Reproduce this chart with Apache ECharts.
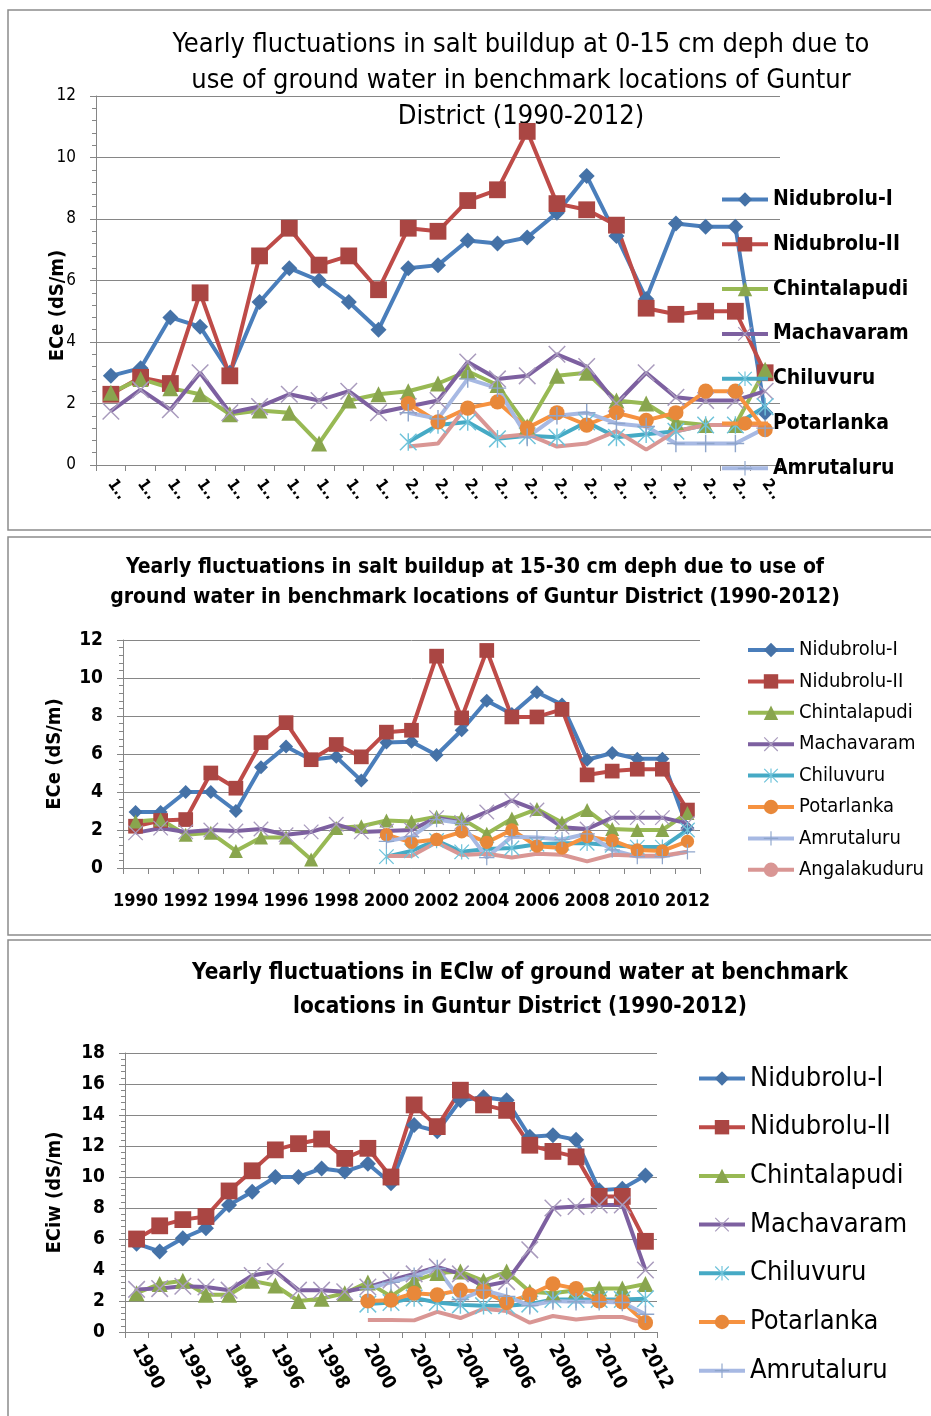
<!DOCTYPE html>
<html>
<head>
<meta charset="utf-8">
<script src="https://cdn.jsdelivr.net/npm/echarts@6/dist/echarts.min.js"></script>
<style>
  html, body { margin: 0; padding: 0; background: #fff; }
  #chart { width: 931px; height: 1416px; }
</style>
</head>
<body>
<div id="chart"></div>
<script>
// years on the category axis
const years = ["1990", "1991", "1992", "1993", "1994", "1995", "1996", "1997", "1998", "1999", "2000",
  "2001", "2002", "2003", "2004", "2005", "2006", "2007", "2008", "2009", "2010", "2011", "2012"];
const locations = ["Nidubrolu-I", "Nidubrolu-II", "Chintalapudi", "Machavaram", "Chiluvuru",
  "Potarlanka", "Amrutaluru", "Angalakuduru"];
const pre = [null, null, null, null, null, null, null, null, null, null];

// panel 1 : ECe at 0-15 cm
const topNid1 = [2.9, 3.15, 4.8, 4.5, 3.0, 5.3, 6.4, 6.0, 5.3, 4.4, 6.4, 6.5, 7.3, 7.2, 7.4, 8.2, 9.4, 7.45, 5.4, 7.85, 7.75, 7.75, 1.7];
const topNid2 = [2.3, 2.85, 2.65, 5.6, 2.9, 6.8, 7.7, 6.5, 6.8, 5.7, 7.7, 7.6, 8.6, 8.95, 10.85, 8.5, 8.3, 7.8, 5.1, 4.9, 5.0, 5.0, 3.0];
const topChin = [2.35, 2.8, 2.5, 2.3, 1.65, 1.77, 1.7, 0.7, 2.1, 2.3, 2.4, 2.65, 3.05, 2.6, 1.25, 2.9, 3.0, 2.1, 2.0, 1.4, 1.3, 1.3, 3.1];
const topMach = [1.75, 2.45, 1.8, 3.0, 1.7, 1.9, 2.3, 2.1, 2.4, 1.7, 1.9, 2.1, 3.35, 2.8, 2.9, 3.6, 3.2, 2.0, 3.0, 2.2, 2.1, 2.1, 2.4];
const topChil = pre.concat([0.75, 1.3, 1.4, 0.85, 0.95, 0.9, 1.4, 0.9, 1.0, 1.1, 1.3, 1.3, 1.9]);
const topPota = pre.concat([2.0, 1.4, 1.85, 2.05, 1.2, 1.7, 1.3, 1.7, 1.45, 1.7, 2.4, 2.4, 1.15]);
const topAmru = pre.concat([1.7, 1.5, 2.8, 2.5, 0.9, 1.6, 1.7, 1.35, 1.25, 0.7, 0.7, 0.7, 1.2]);
const topAnga = pre.concat([0.6, 0.7, 1.95, 0.9, 1.0, 0.6, 0.7, 1.1, 0.5, 1.1, 1.3, 1.3, 1.3]);

// panel 2 : ECe at 15-30 cm
const midNid1 = [2.95, 2.95, 4.0, 4.0, 3.0, 5.3, 6.4, 5.7, 5.85, 4.6, 6.6, 6.65, 5.95, 7.25, 8.8, 8.1, 9.25, 8.6, 5.7, 6.05, 5.75, 5.75, 2.1];
const midNid2 = [2.2, 2.5, 2.55, 5.0, 4.2, 6.6, 7.65, 5.7, 6.5, 5.85, 7.15, 7.25, 11.15, 7.9, 11.45, 7.95, 7.95, 8.35, 4.9, 5.1, 5.2, 5.2, 3.05];
const midChin = [2.45, 2.55, 1.75, 1.85, 0.9, 1.6, 1.6, 0.45, 2.1, 2.2, 2.5, 2.45, 2.7, 2.6, 1.8, 2.6, 3.1, 2.4, 3.05, 2.05, 2.0, 2.0, 2.9];
const midMach = [1.85, 2.1, 1.9, 2.0, 1.95, 2.05, 1.75, 1.9, 2.3, 1.9, 1.95, 2.0, 2.65, 2.4, 2.95, 3.55, 3.05, 2.15, 2.05, 2.65, 2.65, 2.65, 2.35];
const midChil = pre.concat([0.6, 0.9, 1.45, 0.85, 1.0, 1.05, 1.25, 1.3, 1.3, 1.2, 1.1, 1.1, 2.0]);
const midPota = pre.concat([1.75, 1.35, 1.5, 1.9, 1.35, 2.0, 1.15, 1.05, 1.65, 1.45, 0.95, 0.9, 1.4]);
const midAmru = pre.concat([1.4, 1.65, 2.55, 2.35, 0.55, 1.65, 1.6, 1.5, 1.8, 0.95, 0.6, 0.6, 0.85]);
const midAnga = pre.concat([0.63, 0.63, 1.35, 0.68, 0.75, 0.55, 0.75, 0.7, 0.35, 0.7, 0.65, 0.65, 0.85]);

// panel 3 : ECiw of ground water
const botNid1 = [5.7, 5.2, 6.05, 6.7, 8.2, 9.05, 10.0, 10.0, 10.55, 10.35, 10.85, 9.6, 13.35, 12.95, 14.95, 15.15, 14.95, 12.6, 12.7, 12.4, 9.15, 9.25, 10.1];
const botNid2 = [6.0, 6.85, 7.25, 7.45, 9.1, 10.4, 11.75, 12.15, 12.45, 11.2, 11.85, 10.0, 14.65, 13.25, 15.6, 14.65, 14.3, 12.05, 11.65, 11.3, 8.75, 8.75, 5.85];
const botChin = [2.5, 3.1, 3.3, 2.4, 2.4, 3.3, 3.0, 2.0, 2.15, 2.5, 3.2, 2.3, 3.3, 3.8, 3.9, 3.3, 3.9, 2.6, 2.5, 2.7, 2.8, 2.8, 3.1];
const botMach = [2.75, 2.8, 2.95, 2.9, 2.7, 3.65, 3.9, 2.7, 2.7, 2.6, 2.9, 3.35, 3.75, 4.2, 3.75, 2.95, 3.25, 5.3, 8.0, 8.1, 8.2, 8.2, 4.0];
const botChil = pre.concat([1.8, 1.9, 2.2, 1.9, 1.75, 1.7, 1.7, 1.8, 2.1, 2.1, 2.1, 2.1, 2.15]);
const botPota = pre.concat([2.0, 2.05, 2.5, 2.4, 2.7, 2.6, 1.9, 2.4, 3.1, 2.8, 2.0, 1.95, 0.6]);
const botAmru = pre.concat([2.8, 3.2, 3.6, 4.1, 2.1, 2.7, 2.3, 1.7, 2.0, 1.95, 1.95, 1.9, 1.15]);
const botAnga = pre.concat([0.78, 0.78, 0.75, 1.3, 0.9, 1.5, 1.35, 0.6, 1.03, 0.8, 0.97, 0.97, 0.55]);

const FONT = "'Liberation Sans Narrow', 'DejaVu Sans Condensed', 'Liberation Sans', sans-serif";
const GRID_COLOR = "#868686";

// marker shapes
const xMark = "path://M0,0.6L0.6,0L10,9.4L9.4,10Z M9.4,0L10,0.6L0.6,10L0,9.4Z";
const starMark = "path://M0,0.6L0.6,0L10,9.4L9.4,10Z M9.4,0L10,0.6L0.6,10L0,9.4Z M4.6,0H5.4V10H4.6Z";
const plusMark = "path://M4.6,0H5.4V10H4.6Z M0,4.6H10V5.4H0Z";

const looks = {
  "Nidubrolu-I": { line: "#4A7EBB", mark: "#4572A7", symbol: "diamond", k: 1 },
  "Nidubrolu-II": { line: "#BE4B48", mark: "#AA4643", symbol: "rect", k: 1.05 },
  "Chintalapudi": { line: "#98B954", mark: "#89A54E", symbol: "triangle", k: 1 },
  "Machavaram": { line: "#7D60A0", mark: "#A99BBD", symbol: xMark, k: 1.1 },
  "Chiluvuru": { line: "#46AAC5", mark: "#6FC3DA", symbol: starMark, k: 1.1 },
  "Potarlanka": { line: "#F69240", mark: "#E8883A", symbol: "circle", k: 0.95 },
  "Amrutaluru": { line: "#A7B9E3", mark: "#8EA5CB", symbol: plusMark, k: 1.1 },
  "Angalakuduru": { line: "#D99694", mark: "#D99694", symbol: "none", k: 0 },
};

function buildSeries(idx, dataList, size) {
  return locations.map((name, k) => {
    const look = looks[name];
    return {
      name: name,
      type: "line",
      xAxisIndex: idx,
      yAxisIndex: idx,
      data: dataList[k],
      symbol: look.symbol,
      symbolSize: size * look.k,
      showSymbol: look.symbol !== "none",
      showAllSymbol: true,
      lineStyle: { width: 4, color: look.line },
      itemStyle: { color: look.mark },
      connectNulls: false,
      animation: false,
    };
  });
}

function yAxisFor(idx, max, labelFont, bold, name, nameGap, namePad) {
  return {
    type: "value",
    gridIndex: idx,
    min: 0,
    max: max,
    interval: 2,
    name: name,
    nameLocation: "middle",
    nameRotate: 90,
    nameGap: nameGap,
    nameMoveOverlap: false,
    nameTextStyle: { fontFamily: FONT, fontSize: 20, fontWeight: "bold", color: "#000", padding: namePad },
    axisLine: { show: true, lineStyle: { color: GRID_COLOR } },
    axisTick: { show: true, length: 6, lineStyle: { color: GRID_COLOR } },
    minorTick: { show: true, splitNumber: 5, length: 4, lineStyle: { color: GRID_COLOR } },
    axisLabel: { fontFamily: FONT, fontSize: labelFont, fontWeight: bold ? "bold" : "normal", color: "#000", margin: 20 },
    splitLine: { show: true, lineStyle: { color: GRID_COLOR, width: 1 } },
  };
}

function xAxisFor(idx, label) {
  return {
    type: "category",
    gridIndex: idx,
    data: years,
    boundaryGap: true,
    axisLine: { show: true, lineStyle: { color: GRID_COLOR } },
    axisTick: { show: true, interval: 0, length: 6, lineStyle: { color: GRID_COLOR } },
    axisLabel: Object.assign({ fontFamily: FONT, color: "#000" }, label),
    splitLine: { show: false },
  };
}

function legendFor(top, left, size, gap, bold, count) {
  return {
    orient: "vertical",
    left: left,
    top: top,
    padding: 0,
    itemWidth: 46,
    itemHeight: 18,
    itemGap: gap,
    data: locations.slice(0, count),
    lineStyle: { width: 4 },
    textStyle: { fontFamily: FONT, fontSize: size, lineHeight: size + 2, fontWeight: bold ? "bold" : "normal", color: "#000" },
    selectedMode: false,
  };
}

const chart = echarts.init(document.getElementById("chart"));

chart.setOption({
  backgroundColor: "#fff",
  animation: false,
  title: [
    {
      text: "Yearly fluctuations in salt buildup at 0-15 cm deph due to\nuse of ground water in benchmark locations of Guntur\nDistrict (1990-2012)",
      left: 521, top: 27, textAlign: "center", padding: 0, z: 0,
      textStyle: { fontFamily: FONT, fontSize: 27, fontWeight: "normal", lineHeight: 36, color: "#000" },
    },
    {
      text: "Yearly fluctuations in salt buildup at 15-30 cm deph due to use of\nground water in benchmark locations of Guntur District (1990-2012)",
      left: 475, top: 553, textAlign: "center", padding: 0,
      textStyle: { fontFamily: FONT, fontSize: 21, fontWeight: "bold", lineHeight: 30, color: "#000" },
    },
    {
      text: "Yearly fluctuations in EClw of ground water at benchmark\nlocations in Guntur District (1990-2012)",
      left: 520, top: 956, textAlign: "center", padding: 0,
      textStyle: { fontFamily: FONT, fontSize: 22.4, fontWeight: "bold", lineHeight: 34, color: "#000" },
    },
  ],
  legend: [
    legendFor(188, 720, 21, 21.8, true, 7),
    legendFor(639, 746, 20, 9.4, false, 8),
    legendFor(1064, 697, 27, 19.7, false, 7),
  ],
  grid: [
    { left: 96, top: 96, width: 684, height: 369 },
    { left: 123, top: 640, width: 577, height: 228 },
    { left: 125, top: 1053, width: 532, height: 279 },
  ],
  xAxis: [
    xAxisFor(0, { interval: 0, rotate: -55, fontSize: 16, fontWeight: "bold", margin: 16, formatter: (v) => v.charAt(0) + ".." }),
    xAxisFor(1, { interval: 1, fontSize: 18, fontWeight: "bold", margin: 24 }),
    xAxisFor(2, { interval: 1, rotate: -62, fontSize: 19, fontWeight: "bold", margin: 14 }),
  ],
  yAxis: [
    yAxisFor(0, 12, 17, false, "ECe (dS/m)", 28, [0, 50, 0, 0]),
    yAxisFor(1, 12, 19, true, "ECe (dS/m)", 58, 0),
    yAxisFor(2, 18, 19, true, "ECiw (dS/m)", 60, 0),
  ],
  series: []
    .concat(buildSeries(0, [topNid1, topNid2, topChin, topMach, topChil, topPota, topAmru, topAnga], 16))
    .concat(buildSeries(1, [midNid1, midNid2, midChin, midMach, midChil, midPota, midAmru, midAnga], 14))
    .concat(buildSeries(2, [botNid1, botNid2, botChin, botMach, botChil, botPota, botAmru, botAnga], 16)),
  graphic: [
    { type: "rect", shape: { x: 8, y: 10, width: 940, height: 520 }, style: { fill: "none", stroke: "#8c8c8c", lineWidth: 1.5 }, z: -1 },
    { type: "rect", shape: { x: 8, y: 537, width: 940, height: 398 }, style: { fill: "none", stroke: "#8c8c8c", lineWidth: 1.5 }, z: -1 },
    { type: "rect", shape: { x: 8, y: 940, width: 940, height: 490 }, style: { fill: "none", stroke: "#8c8c8c", lineWidth: 1.5 }, z: -1 },
  ],
});

window.addEventListener("resize", () => chart.resize());
</script>
</body>
</html>
